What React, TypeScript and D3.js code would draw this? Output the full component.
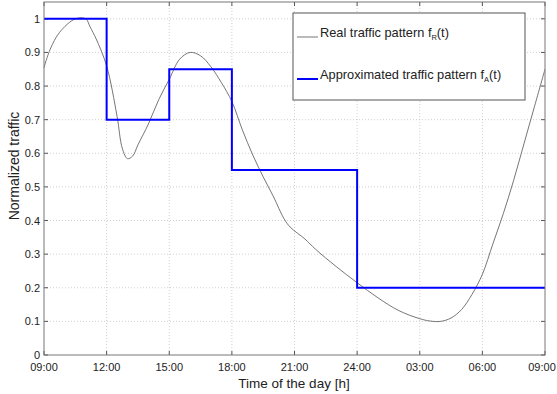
import * as d3 from "d3";

// hours since 09:00
const realHours = [0, 0.3, 0.75, 1.5, 2, 2.2, 2.5, 3, 3.5, 3.75, 4, 4.25, 4.5, 5, 5.5, 6, 6.5, 7, 7.5, 8, 8.5, 9, 9.5, 10, 10.5, 11, 11.5, 11.8, 12.5, 13, 14, 15, 16, 17, 18, 18.5, 19, 19.5, 20, 20.5, 21, 21.5, 22, 22.5, 23, 23.5, 24];
const realTraffic = [0.855, 0.91, 0.96, 1.0, 1.0, 0.977, 0.94, 0.86, 0.71, 0.615, 0.584, 0.592, 0.625, 0.687, 0.76, 0.82, 0.88, 0.9, 0.89, 0.857, 0.81, 0.754, 0.67, 0.595, 0.53, 0.47, 0.405, 0.38, 0.345, 0.315, 0.263, 0.215, 0.17, 0.132, 0.108, 0.101, 0.1, 0.11, 0.135, 0.18, 0.24, 0.33, 0.42, 0.52, 0.63, 0.74, 0.85];

const stepStarts = [0, 3, 6, 9, 15];
const stepEnds = [3, 6, 9, 15, 24];
const stepValues = [1, 0.7, 0.85, 0.55, 0.2];

const xTickHours = [0, 3, 6, 9, 12, 15, 18, 21, 24];
const xTickLabels = ["09:00", "12:00", "15:00", "18:00", "21:00", "24:00", "03:00", "06:00", "09:00"];
const yTicks = [0, 0.1, 0.2, 0.3, 0.4, 0.5, 0.6, 0.7, 0.8, 0.9, 1];

const W = 557;
const H = 394;
const m = { left: 44, right: 12, top: 2, bottom: 39 };

export default function App() {
  const x = d3.scaleLinear().domain([0, 24]).range([m.left, W - m.right]);
  const y = d3.scaleLinear().domain([0, 1.05]).range([H - m.bottom, m.top]);

  const realLine = d3
    .line<number>()
    .x((_, i) => x(realHours[i]))
    .y((d) => y(d))
    .curve(d3.curveCatmullRom);

  const stepPts: [number, number][] = [];
  stepValues.forEach((v, i) => {
    stepPts.push([stepStarts[i], v]);
    stepPts.push([stepEnds[i], v]);
  });
  const stepLine = d3
    .line<[number, number]>()
    .x((d) => x(d[0]))
    .y((d) => y(d[1]));

  const font = "'Liberation Sans', Arial, sans-serif";
  const x0 = m.left;
  const x1 = W - m.right;
  const y0 = H - m.bottom;
  const y1 = m.top;

  const lx = 293;
  const ly = 13;

  return (
    <svg
      width={W}
      height={H}
      style={{ position: "absolute", left: 0, top: 0, background: "#fff" }}
      fontFamily={font}
    >
      <rect x={0} y={0} width={W} height={H} fill="#fff" />
      {/* grid */}
      {xTickHours.slice(1, -1).map((h) => (
        <line key={"gx" + h} x1={x(h)} x2={x(h)} y1={y1} y2={y0} stroke="#bbb" strokeWidth={0.7} strokeDasharray="1,2" />
      ))}
      {yTicks.slice(1).map((t) => (
        <line key={"gy" + t} x1={x0} x2={x1} y1={y(t)} y2={y(t)} stroke="#bbb" strokeWidth={0.7} strokeDasharray="1,2" />
      ))}
      {/* ticks */}
      {xTickHours.map((h, i) => (
        <g key={"xt" + i}>
          <line x1={x(h)} x2={x(h)} y1={y0} y2={y0 - 4} stroke="#555" />
          <line x1={x(h)} x2={x(h)} y1={y1} y2={y1 + 4} stroke="#555" />
          <text x={Math.min(x(h), W - 15)} y={y0 + 16} fontSize={11} textAnchor="middle" fill="#222">
            {xTickLabels[i]}
          </text>
        </g>
      ))}
      {yTicks.map((t) => (
        <g key={"yt" + t}>
          <line x1={x0} x2={x0 + 4} y1={y(t)} y2={y(t)} stroke="#555" />
          <line x1={x1} x2={x1 - 4} y1={y(t)} y2={y(t)} stroke="#555" />
          <text x={x0 - 4} y={y(t) + 4} fontSize={11} textAnchor="end" fill="#222">
            {t === 0 || t === 1 ? String(t) : t.toFixed(1)}
          </text>
        </g>
      ))}
      {/* data */}
      <path d={realLine(realTraffic) || ""} fill="none" stroke="#666" strokeWidth={0.9} />
      <path d={stepLine(stepPts) || ""} fill="none" stroke="#0000ff" strokeWidth={2} />
      {/* axes box */}
      <rect x={x0} y={y1} width={x1 - x0} height={y0 - y1} fill="none" stroke="#777" strokeWidth={1} />
      {/* labels */}
      <text x={294} y={388} fontSize={13.5} textAnchor="middle" fill="#222">
        Time of the day [h]
      </text>
      <text transform={`translate(19,166) rotate(-90)`} fontSize={14} textAnchor="middle" fill="#222">
        Normalized traffic
      </text>
      {/* legend */}
      <rect x={lx} y={ly} width={232} height={87} fill="#fff" stroke="#555" strokeWidth={1} />
      <line x1={lx + 4} x2={lx + 25} y1={ly + 24} y2={ly + 24} stroke="#666" strokeWidth={0.9} />
      <text x={lx + 27} y={ly + 24} fontSize={12.8} fill="#222">
        Real traffic pattern f<tspan fontSize={7.5} dy={3}>R</tspan>
        <tspan dy={-3}>(t)</tspan>
      </text>
      <line x1={lx + 4} x2={lx + 25} y1={ly + 66} y2={ly + 66} stroke="#0000ff" strokeWidth={2} />
      <text x={lx + 27} y={ly + 66} fontSize={12.8} fill="#222">
        Approximated traffic pattern f<tspan fontSize={7.5} dy={3}>A</tspan>
        <tspan dy={-3}>(t)</tspan>
      </text>
    </svg>
  );
}
